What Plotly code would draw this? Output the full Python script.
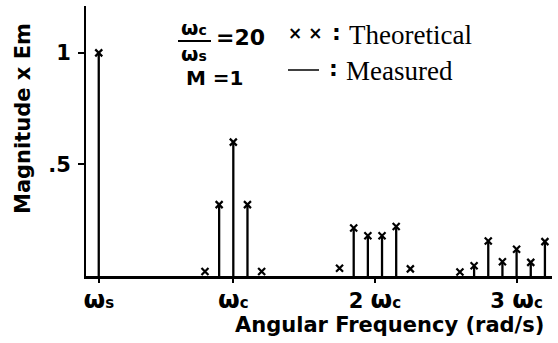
import plotly.graph_objects as go

# Angular frequency in units of omega_c (omega_s = omega_c / 20)
freq = [0.05, 0.8, 0.9, 1.0, 1.1, 1.2, 1.75, 1.85, 1.95, 2.05, 2.15, 2.25,
        2.6, 2.7, 2.8, 2.9, 3.0, 3.1, 3.2]
theoretical = [1.0, 0.02, 0.32, 0.60, 0.32, 0.02, 0.035, 0.215, 0.18, 0.18, 0.222, 0.032,
               0.018, 0.046, 0.157, 0.064, 0.12, 0.061, 0.154]
measured = [1.0, 0.0, 0.32, 0.60, 0.32, 0.0, 0.0, 0.215, 0.18, 0.18, 0.222, 0.0,
            0.0, 0.046, 0.157, 0.064, 0.12, 0.061, 0.154]
x_tickvals = [0.05, 1, 2, 3]
small = 'font-size:15px'
num = 'font-size:21px'
x_ticktext = [f'ω<span style="{small}">s</span>',
              f'ω<span style="{small}">c</span>',
              f'<span style="{num}">2\u00a0</span>ω<span style="{small}">c</span>',
              f'<span style="{num}">3\u00a0</span>ω<span style="{small}">c</span>']
y_tickvals = [0.5, 1]
y_ticktext = ['.5', '1']

SANS = 'DejaVu Sans'
SERIF = 'Liberation Serif'

xs, ys = [], []
for f, m in zip(freq, measured):
    xs += [f, f, None]
    ys += [0, m, None]

fig = go.Figure()
fig.add_trace(go.Scatter(x=xs, y=ys, mode='lines',
                         line=dict(color='black', width=2.3),
                         hoverinfo='skip', showlegend=False))
fig.add_trace(go.Scatter(x=freq, y=theoretical, mode='markers',
                         marker=dict(symbol='x-thin', size=7,
                                     line=dict(color='black', width=2.2)),
                         showlegend=False))

fig.update_layout(
    width=558, height=343,
    margin=dict(l=86, r=6, t=6, b=67),
    paper_bgcolor='white', plot_bgcolor='white',
    font=dict(family=SANS, color='black'),
    xaxis=dict(range=[-0.04, 3.25], showgrid=False, zeroline=False,
               showline=True, linecolor='black', linewidth=2.5,
               ticks='outside', ticklen=4, tickwidth=1.5, tickcolor='black',
               tickvals=x_tickvals, ticktext=x_ticktext,
               ticklabelstandoff=-5,
               tickfont=dict(family=SANS, size=25, weight='bold', color='black')),
    yaxis=dict(range=[0, 1.21], showgrid=False, zeroline=False,
               showline=True, linecolor='black', linewidth=2,
               ticks='outside', ticklen=6, tickwidth=1.5, tickcolor='black',
               tickvals=y_tickvals, ticktext=y_ticktext,
               ticklabelstandoff=3,
               tickfont=dict(family=SANS, size=21, weight='bold', color='black')),
)

def px2paper(px, py):
    return (px - 86) / 466, (276 - py) / 270

ann = []
def add(text, px, py, size, family=SANS, weight='bold', xanchor='center', angle=0):
    x, y = px2paper(px, py)
    ann.append(dict(text=text, x=x, y=y, xref='paper', yref='paper',
                    xanchor=xanchor, yanchor='middle', showarrow=False,
                    textangle=angle,
                    font=dict(family=family, size=size, weight=weight, color='black')))

add('Magnitude x Em', 23, 119, 21, angle=-90)
add('Angular Frequency (rad/s)', 389, 325, 21)
# fraction omega_c / omega_s = 20 (one text block, two lines)
big = 'font-size:20px'
sm = 'font-size:14px'
add(f'ω<span style="{sm}">c</span><br>ω<span style="{sm}">s</span>', 194, 41, 20)
add('=20', 214, 38, 22, xanchor='left')
add('M\u00a0=1', 184, 78, 20, xanchor='left')
# legend text
add('× ×', 305, 33, 17, weight='bold')
add(':', 336, 33, 22)
add('Theoretical', 347, 35, 27, family=SERIF, weight='normal', xanchor='left')
add(':', 333, 69, 22)
add('Measured', 344, 71, 27, family=SERIF, weight='normal', xanchor='left')
fig.update_layout(annotations=ann)

x0, y0 = px2paper(178, 41)
x1, _ = px2paper(211, 41)
fig.add_shape(type='line', xref='paper', yref='paper', x0=x0, x1=x1, y0=y0, y1=y0,
              line=dict(color='black', width=1.8))
# legend line sample for "Measured"
lx0, ly = px2paper(288, 70)
lx1, _ = px2paper(319, 70)
fig.add_shape(type='line', xref='paper', yref='paper', x0=lx0, x1=lx1, y0=ly, y1=ly,
              line=dict(color='black', width=1.5))

fig.write_html('out.html')
